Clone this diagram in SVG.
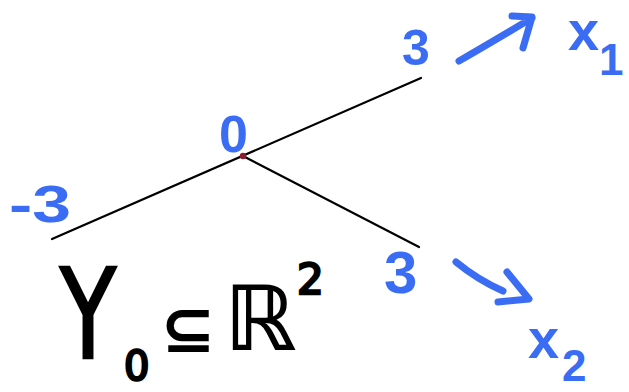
<svg xmlns="http://www.w3.org/2000/svg" width="629" height="392" viewBox="0 0 629 392">
<style>
.ln{stroke:#000;stroke-width:2.2;fill:none;stroke-linecap:round}
.bl{fill:#3a6cf4;font-family:"Liberation Sans","DejaVu Sans",sans-serif;font-weight:bold}
.bk{fill:#000;font-family:"DejaVu Sans","Liberation Sans",sans-serif;font-weight:bold}
.thin{font-weight:normal;stroke:#000;stroke-width:2.5}
.arr{stroke:#3a6cf4;stroke-width:7;fill:none;stroke-linecap:round;stroke-linejoin:round}
</style>
<rect width="629" height="392" fill="#fff"/>
<g id="edges">
<line class="ln" x1="52" y1="239" x2="421" y2="78"/>
<line class="ln" x1="243" y1="156" x2="419" y2="247"/>
</g>
<g id="origin">
<circle cx="243" cy="156" r="3.2" fill="#8b1c2c"/>
<text class="bl" x="219" y="152" font-size="52">0</text>
</g>
<g id="left-end"><text class="bl" x="9" y="222" font-size="52" textLength="62" lengthAdjust="spacingAndGlyphs">-3</text></g>
<g id="top-end"><text class="bl" x="402" y="65" font-size="50">3</text></g>
<g id="bottom-end"><text class="bl" x="384" y="293" font-size="60">3</text></g>
<g id="x1">
<path class="arr" d="M459,61 Q492,42 532,18 M512,16 L532,17 L523,48"/>
<text class="bl" x="568" y="50" font-size="56">x<tspan x="599" y="75" font-size="44">1</tspan></text>
</g>
<g id="x2">
<path class="arr" d="M456,262 Q478,280 503,291 M507,272 L529,299 L498,302"/>
<text class="bl" x="528" y="358" font-size="56">x<tspan x="562" y="381" font-size="44">2</tspan></text>
</g>
<g id="label">
<text class="bk thin" transform="translate(60,358) scale(0.74,1)" font-size="124" stroke-width="3">Y</text>
<text class="bk thin" x="124" y="380" font-size="40" stroke-width="1.5">0</text>
<text class="bk" x="160" y="352" font-size="66">⊆</text>
<text class="bk" x="224" y="350" font-size="90">ℝ<tspan class="thin" x="297" y="294" font-size="42" stroke-width="1.5">2</tspan></text>
</g>
</svg>
